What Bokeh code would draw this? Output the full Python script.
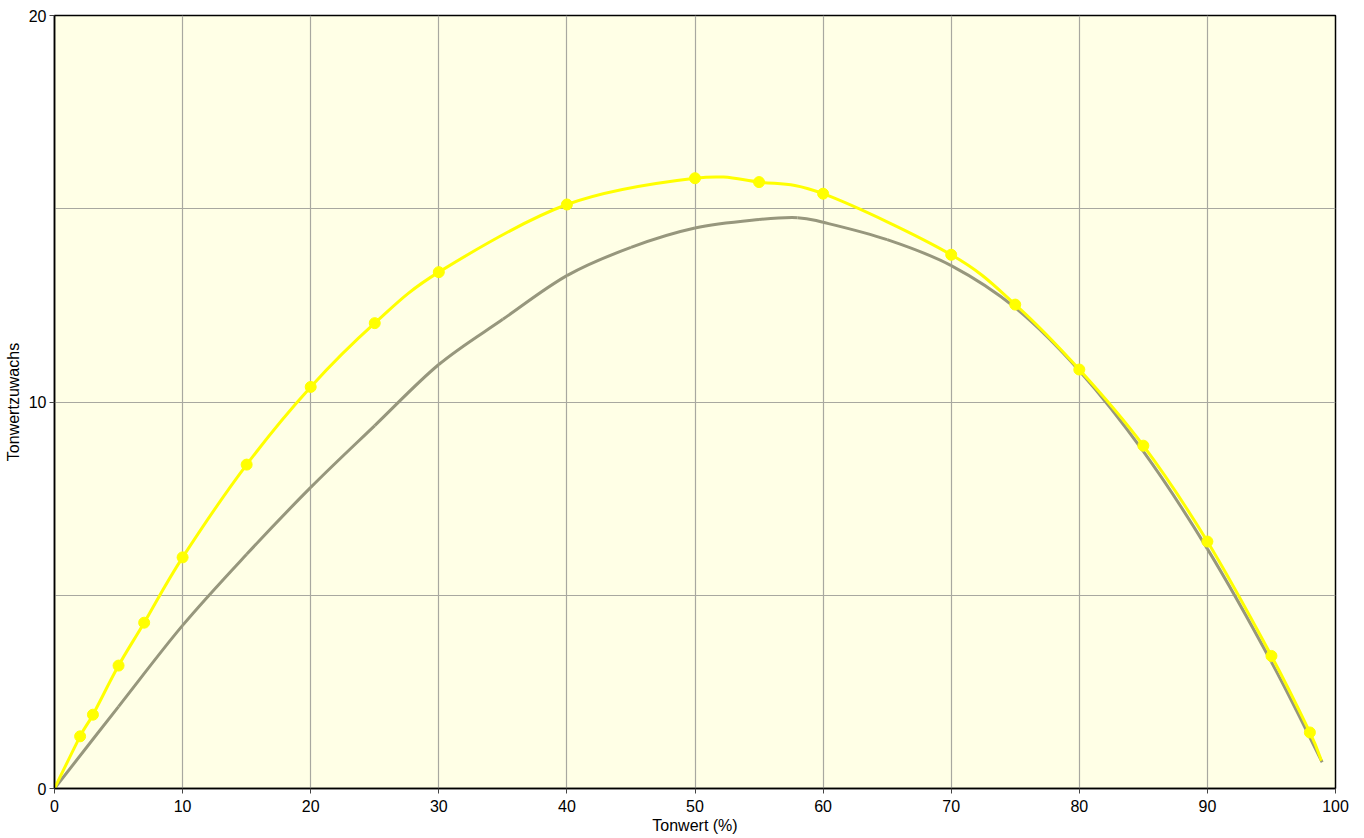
from bokeh.plotting import figure
from bokeh.models import FixedTicker, ColumnDataSource, Range1d
from bokeh.embed import file_html
from bokeh.resources import INLINE

# Yellow series (markers)
yellow_x = [2, 3, 5, 7, 10, 15, 20, 25, 30, 40, 50, 55, 60, 70, 75, 80, 85, 90, 95, 98]
yellow_y = [1.35, 1.91, 3.18, 4.29, 5.98, 8.38, 10.39, 12.04, 13.36, 15.11, 15.79, 15.69, 15.39,
            13.81, 12.52, 10.84, 8.87, 6.39, 3.43, 1.45]
# Yellow line end points (no markers)
yellow_start = (0, 0.0)
yellow_end = (98.9, 0.72)

# Gray series (line only)
gray_x = [0, 5, 10, 15, 20, 25, 30, 35, 40, 45, 50, 55, 58, 60, 65, 70, 75, 80, 85, 90, 95, 98.96]
gray_y = [0.0, 2.12, 4.22, 6.06, 7.79, 9.39, 10.97, 12.14, 13.27, 14.0, 14.5, 14.72, 14.77,
          14.65, 14.2, 13.53, 12.44, 10.81, 8.72, 6.2, 3.27, 0.68]

x_ticks = [0, 10, 20, 30, 40, 50, 60, 70, 80, 90, 100]
y_ticks = [0, 10, 20]
y_grid = [5, 10, 15]
x_grid = [10, 20, 30, 40, 50, 60, 70, 80, 90]

FONT = "Liberation Sans"


def smooth_segments(xs, ys):
    """Cubic Bezier control points (Catmull-Rom style) for a smoothed line."""
    n = len(xs)
    seg = dict(x0=[], y0=[], x1=[], y1=[], cx0=[], cy0=[], cx1=[], cy1=[])
    for i in range(n - 1):
        p0 = (xs[i - 1], ys[i - 1]) if i > 0 else (xs[i], ys[i])
        p1 = (xs[i], ys[i])
        p2 = (xs[i + 1], ys[i + 1])
        p3 = (xs[i + 2], ys[i + 2]) if i + 2 < n else (xs[i + 1], ys[i + 1])
        seg["x0"].append(p1[0]); seg["y0"].append(p1[1])
        seg["x1"].append(p2[0]); seg["y1"].append(p2[1])
        seg["cx0"].append(p1[0] + (p2[0] - p0[0]) / 6.0)
        seg["cy0"].append(p1[1] + (p2[1] - p0[1]) / 6.0)
        seg["cx1"].append(p2[0] - (p3[0] - p1[0]) / 6.0)
        seg["cy1"].append(p2[1] - (p3[1] - p1[1]) / 6.0)
    return ColumnDataSource(seg)


p = figure(width=1364, height=838, output_backend="svg", toolbar_location=None,
           x_range=Range1d(0, 100), y_range=Range1d(0, 20),
           min_border_left=54, min_border_right=29, min_border_top=15, min_border_bottom=50)

p.background_fill_color = "#FFFFE6"
p.border_fill_color = "white"
p.outline_line_color = "black"
p.outline_line_width = 1.5

p.xaxis.ticker = FixedTicker(ticks=x_ticks)
p.yaxis.ticker = FixedTicker(ticks=y_ticks)
p.xgrid.ticker = FixedTicker(ticks=x_grid)
p.ygrid.ticker = FixedTicker(ticks=y_grid)
p.xgrid.grid_line_color = "#A8A8A0"
p.ygrid.grid_line_color = "#A8A8A0"
p.xgrid.grid_line_width = 1.2
p.ygrid.grid_line_width = 1.2

for ax in (p.xaxis, p.yaxis):
    ax.axis_line_color = "black"
    ax.axis_line_width = 1.5
    ax.major_tick_line_color = "#444444"
    ax.major_tick_in = 0
    ax.major_tick_out = 5
    ax.minor_tick_line_color = None
    ax.major_label_text_font = FONT
    ax.major_label_text_font_size = "16px"
    ax.major_label_text_color = "black"
    ax.axis_label_text_font = FONT
    ax.axis_label_text_font_size = "16px"
    ax.axis_label_text_font_style = "normal"
    ax.axis_label_text_color = "black"

p.xaxis.axis_label = "Tonwert (%)"
p.yaxis.axis_label = "Tonwertzuwachs"
p.xaxis.major_label_standoff = 6
p.xaxis.axis_label_standoff = 2
p.yaxis.major_label_standoff = 3
p.yaxis.axis_label_standoff = 4

p.bezier(x0="x0", y0="y0", x1="x1", y1="y1", cx0="cx0", cy0="cy0", cx1="cx1", cy1="cy1",
         source=smooth_segments(gray_x, gray_y), line_color="#97977D", line_width=3)

yx = [yellow_start[0]] + yellow_x + [yellow_end[0]]
yy = [yellow_start[1]] + yellow_y + [yellow_end[1]]
p.bezier(x0="x0", y0="y0", x1="x1", y1="y1", cx0="cx0", cy0="cy0", cx1="cx1", cy1="cy1",
         source=smooth_segments(yx, yy), line_color="#FFFF00", line_width=3)
p.scatter(yellow_x, yellow_y, size=11, fill_color="#FFFF00", line_color="#FFFF00")

open("out.html", "w").write(file_html(p, INLINE))
